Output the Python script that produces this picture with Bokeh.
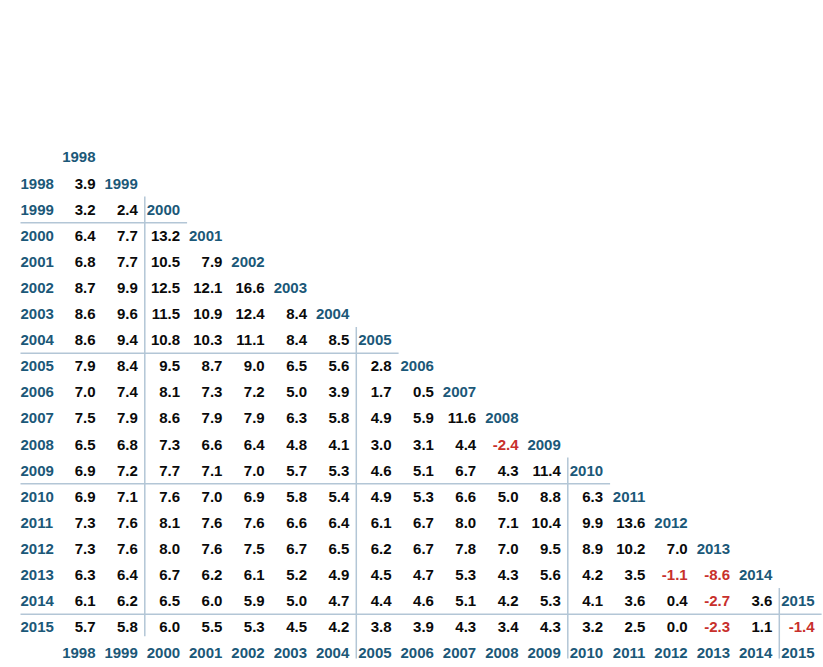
from bokeh.plotting import figure
from bokeh.models import Range1d, ColumnDataSource
from bokeh.core.properties import value
from bokeh.embed import file_html
from bokeh.resources import INLINE

years = list(range(1998, 2016))

# Annualised returns: row = end year, entries by start year 1998..end year
end_1998 = [3.9]
end_1999 = [3.2, 2.4]
end_2000 = [6.4, 7.7, 13.2]
end_2001 = [6.8, 7.7, 10.5, 7.9]
end_2002 = [8.7, 9.9, 12.5, 12.1, 16.6]
end_2003 = [8.6, 9.6, 11.5, 10.9, 12.4, 8.4]
end_2004 = [8.6, 9.4, 10.8, 10.3, 11.1, 8.4, 8.5]
end_2005 = [7.9, 8.4, 9.5, 8.7, 9.0, 6.5, 5.6, 2.8]
end_2006 = [7.0, 7.4, 8.1, 7.3, 7.2, 5.0, 3.9, 1.7, 0.5]
end_2007 = [7.5, 7.9, 8.6, 7.9, 7.9, 6.3, 5.8, 4.9, 5.9, 11.6]
end_2008 = [6.5, 6.8, 7.3, 6.6, 6.4, 4.8, 4.1, 3.0, 3.1, 4.4, -2.4]
end_2009 = [6.9, 7.2, 7.7, 7.1, 7.0, 5.7, 5.3, 4.6, 5.1, 6.7, 4.3, 11.4]
end_2010 = [6.9, 7.1, 7.6, 7.0, 6.9, 5.8, 5.4, 4.9, 5.3, 6.6, 5.0, 8.8, 6.3]
end_2011 = [7.3, 7.6, 8.1, 7.6, 7.6, 6.6, 6.4, 6.1, 6.7, 8.0, 7.1, 10.4, 9.9, 13.6]
end_2012 = [7.3, 7.6, 8.0, 7.6, 7.5, 6.7, 6.5, 6.2, 6.7, 7.8, 7.0, 9.5, 8.9, 10.2, 7.0]
end_2013 = [6.3, 6.4, 6.7, 6.2, 6.1, 5.2, 4.9, 4.5, 4.7, 5.3, 4.3, 5.6, 4.2, 3.5, -1.1, -8.6]
end_2014 = [6.1, 6.2, 6.5, 6.0, 5.9, 5.0, 4.7, 4.4, 4.6, 5.1, 4.2, 5.3, 4.1, 3.6, 0.4, -2.7, 3.6]
end_2015 = [5.7, 5.8, 6.0, 5.5, 5.3, 4.5, 4.2, 3.8, 3.9, 4.3, 3.4, 4.3, 3.2, 2.5, 0.0, -2.3, 1.1, -1.4]

rows = [end_1998, end_1999, end_2000, end_2001, end_2002, end_2003, end_2004,
        end_2005, end_2006, end_2007, end_2008, end_2009, end_2010, end_2011,
        end_2012, end_2013, end_2014, end_2015]

# separators every five years (block starts)
block_starts = [2000, 2005, 2010, 2015]

FONT = value("Liberation Sans")
FSIZE = "15px"
BLUE = "#1b5878"
RED = "#c8302c"
BLACK = "#0a0a0a"
LINE = "#b3c6d6"

n = len(years)
colw = 42.3   # px per column
rowh = 26.1   # px per row
W, H = 823, 667
x0px, y0px = 95, 183  # right edge of first column, centre of first row

p = figure(width=W, height=H, output_backend="svg", toolbar_location=None,
           x_axis_location=None, y_axis_location=None, min_border=0,
           x_range=Range1d(-x0px / colw, -x0px / colw + W / colw),
           y_range=Range1d(y0px / rowh - H / rowh, y0px / rowh))
p.grid.visible = False
p.outline_line_color = None
p.background_fill_color = "white"
p.border_fill_color = "white"

common = dict(text_font=FONT, text_font_size=FSIZE, text_font_style="bold",
              text_baseline="middle")

# values
vx, vy, vt, vc = [], [], [], []
for r, row in enumerate(rows):
    for c, v in enumerate(row):
        vx.append(c)
        vy.append(-r)
        vt.append(f"{v:.1f}")
        vc.append(RED if v < 0 else BLACK)
p.text(x="x", y="y", text="t", text_color="c",
       source=ColumnDataSource(dict(x=vx, y=vy, t=vt, c=vc)),
       text_align="right", **common)

# diagonal year labels, bottom labels, row labels
lab = [str(y) for y in years]
p.text(x=list(range(n)), y=[1 - c for c in range(n)], text=lab,
       text_align="right", text_color=BLUE, **common)
p.text(x=list(range(n)), y=[-n] * n, text=lab,
       text_align="right", text_color=BLUE, **common)
row_x = (20 - x0px) / colw
p.text(x=[row_x] * n, y=[-r for r in range(n)], text=lab,
       text_align="left", text_color=BLUE, **common)

# separator lines
off = 7 / colw
hx0, hx1, hy = [], [], []
vx0, vy0, vy1 = [], [], []
for b in block_starts:
    c = years.index(b)
    hx0.append(row_x)
    hx1.append(c + off)
    hy.append(-(c - 1) - 0.5)
    vx0.append(c - 1 + off)
    vy0.append(-(c - 1) + 0.5)
    vy1.append(-(n - 1) - 0.35 if b == block_starts[0] else -n - 0.2)
p.segment(x0=hx0, y0=hy, x1=hx1, y1=hy, line_color=LINE, line_width=1.5)
p.segment(x0=vx0, y0=vy0, x1=vx0, y1=vy1, line_color=LINE, line_width=1.5)

open("out.html", "w").write(file_html(p, INLINE))
